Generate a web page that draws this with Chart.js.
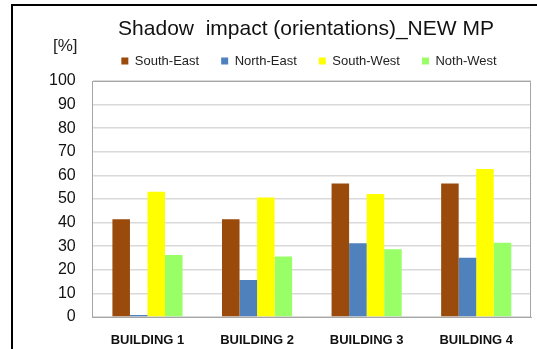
<!DOCTYPE html>
<html>
<head>
<meta charset="utf-8">
<script src="https://cdn.jsdelivr.net/npm/chart.js@4/dist/chart.umd.min.js"></script>
<style>
  html, body { margin: 0; padding: 0; background: #fff; }
  #wrap { position: relative; width: 537px; height: 349px; overflow: hidden; }
  #frame { position: absolute; left: 11px; top: 4px; width: 540px; height: 360px; border-left: 2px solid #000; border-top: 2px solid #000; box-sizing: border-box; }
  #unit { position: absolute; left: 53px; top: 36px; font: 17px "Liberation Sans", Arial, sans-serif; color: #222; }
  canvas { position: absolute; left: 0; top: 0; }
</style>
</head>
<body>
<div id="wrap">
  <canvas id="c" width="537" height="349"></canvas>
  <div id="frame"></div>
  <div id="unit">[%]</div>
</div>
<script>
const categories = ["BUILDING 1", "BUILDING 2", "BUILDING 3", "BUILDING 4"];
const seriesNames = ["South-East", "North-East", "South-West", "Noth-West"];
const southEast = [41.4, 41.4, 56.6, 56.6];
const northEast = [0.8, 15.7, 31.2, 25.1];
const southWest = [53.1, 50.6, 52.1, 62.7];
const nothWest = [26.3, 25.6, 28.7, 31.5];
const yMin = 0, yMax = 100, yStep = 10;
const colors = ["#9A4A0A", "#4F81BD", "#FFFF00", "#99FF66"];

const frameBorder = {
  id: 'frameBorder',
  afterLayout(chart) {
    // nudge title and legend blocks to sit like the reference
    const t = chart.titleBlock, l = chart.legend;
    if (t) { t.left += 24.5; t.right += 24.5; t.top += 6.4; t.bottom += 6.4; }
    if (l) { l.left += 27.5; l.right += 27.5; l.top -= 3.5; l.bottom -= 3.5; }
  },
  afterDatasetsDraw(chart) {
    const a = chart.chartArea, ctx = chart.ctx;
    ctx.save();
    ctx.strokeStyle = '#a6a6a6';
    ctx.lineWidth = 1;
    ctx.beginPath();
    ctx.moveTo(a.left + 0.5, a.top + 0.5);
    ctx.lineTo(a.right - 0.5, a.top + 0.5);
    ctx.lineTo(a.right - 0.5, a.bottom);
    ctx.stroke();
    ctx.restore();
  }
};

new Chart(document.getElementById('c'), {
  type: 'bar',
  data: {
    labels: categories,
    datasets: [southEast, northEast, southWest, nothWest].map((d, i) => ({
      label: seriesNames[i],
      data: d,
      backgroundColor: colors[i],
      borderWidth: 0,
      barPercentage: 1,
      categoryPercentage: 0.64
    }))
  },
  options: {
    responsive: false,
    animation: false,
    layout: { padding: { left: 32, right: 6, top: 6, bottom: 0 } },
    plugins: {
      title: {
        display: true,
        text: 'Shadow  impact (orientations)_NEW MP',
        color: '#111',
        font: { family: '"Liberation Sans", Arial, sans-serif', size: 21, weight: 'normal' },
        padding: { top: 4, bottom: 0.8 }
      },
      legend: {
        display: true,
        labels: {
          boxWidth: 7,
          boxHeight: 7,
          padding: 22,
          color: '#222',
          font: { family: '"Liberation Sans", Arial, sans-serif', size: 13 }
        }
      },
      tooltip: { enabled: false }
    },
    scales: {
      x: {
        afterFit(scale) { scale.height = 32; },
        grid: { display: false, drawTicks: false },
        border: { color: '#a6a6a6', width: 1 },
        ticks: {
          color: '#111',
          padding: 16,
          font: { family: '"Liberation Sans", Arial, sans-serif', size: 13, weight: 'bold' }
        }
      },
      y: {
        min: yMin,
        max: yMax,
        grid: { color: '#d9d9d9', lineWidth: 1.5, drawTicks: false },
        border: { color: '#a6a6a6', width: 1 },
        ticks: {
          stepSize: yStep,
          autoSkip: false,
          color: '#111',
          padding: 17,
          font: { family: '"Liberation Sans", Arial, sans-serif', size: 16 }
        }
      }
    }
  },
  plugins: [frameBorder]
});
</script>
</body>
</html>
